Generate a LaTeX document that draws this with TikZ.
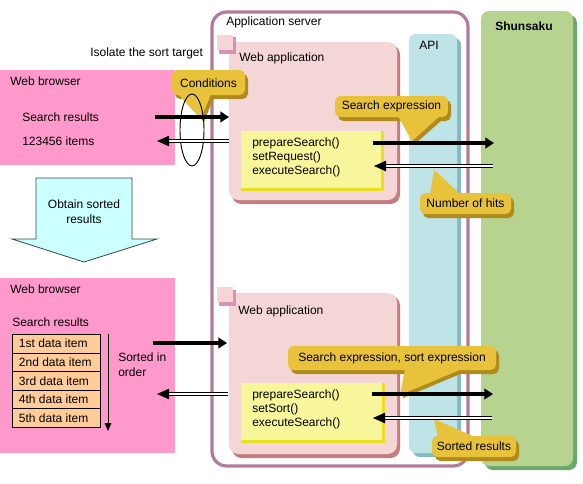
\documentclass[tikz,border=0pt]{standalone}
\usepackage{fontspec}
\setmainfont{Liberation Sans}
\usetikzlibrary{arrows.meta,decorations.markings}
\definecolor{appframe}{HTML}{B27B9A}
\definecolor{apifill}{HTML}{BEE4E7}
\definecolor{apishadow}{HTML}{86BAC2}
\definecolor{shfill}{HTML}{B6D490}
\definecolor{shshadow}{HTML}{6AA86C}
\definecolor{wafill}{HTML}{F5D6D6}
\definecolor{washadow}{HTML}{C27E80}
\definecolor{tabdark}{HTML}{D891B4}
\definecolor{yfill}{HTML}{F8F69A}
\definecolor{yborder}{HTML}{E8E020}
\definecolor{wbfill}{HTML}{FF99CC}
\definecolor{cellfill}{HTML}{FFCC99}
\definecolor{cyanfill}{HTML}{CCFFFF}
\definecolor{cyanline}{HTML}{2F4848}
\definecolor{gold}{HTML}{E8C23A}
\definecolor{gshadow}{HTML}{B08A1C}
\newcommand\gcall[5]{%
  \fill[gshadow,rounded corners=4pt,shift={(3,4)}] #1;
  \fill[gshadow,shift={(3,3)}] #2 -- cycle;
  \fill[gold,rounded corners=4pt] #1;
  \fill[gold] #2 -- cycle;
  \node[inner sep=0pt] (#3) at #4 {#5};}
\begin{document}
\begin{tikzpicture}[x=0.75pt,y=-0.75pt,font=\fontsize{9}{11}\selectfont,
  lbl/.style={anchor=west,inner sep=0pt},
  thickarrow/.style={line width=2.8pt,-{Triangle[length=6.5pt,width=8pt]}},
  dblarrow/.style={double,double distance=2pt,line width=0.7pt,shorten >=7pt,
    decoration={markings,mark=at position 1 with {\fill[black] (0,0) -- (-9pt,4pt) -- (-9pt,-4pt) -- cycle;}},
    postaction={decorate}},
  cell/.style={draw,fill=cellfill,line width=0.6pt,minimum width=66pt,minimum height=13.9pt,inner sep=0pt,anchor=north west}]
\useasboundingbox (0,0) rectangle (583,483);
% Shunsaku
\fill[shshadow,rounded corners=6pt] (485,15) rectangle (577,470);
\fill[shfill,rounded corners=6pt] (481,11) rectangle (573,466);
\node[lbl,font=\fontsize{9}{11}\selectfont\bfseries] (shun) at (495,26) {Shunsaku};
% Application server
\draw[appframe,line width=2.4pt,rounded corners=11pt] (212,12) rectangle (468,466);
\node[lbl] (appsrv) at (226,22) {Application server};
% API
\fill[apishadow,rounded corners=5pt] (413,38) rectangle (461,457);
\fill[apifill,rounded corners=5pt] (409,34) rectangle (457,453);
\node[lbl] (api) at (419,45) {API};
% Web application top
\fill[washadow,rounded corners=7pt] (232,45) rectangle (400,204);
\fill[wafill,rounded corners=7pt] (229,42) rectangle (397,200);
\fill[tabdark] (219,37) rectangle (236,54);
\fill[wafill] (217,35) rectangle (233,50);
\node[lbl] (wa1) at (239,58) {Web application};
\fill[yborder] (241,131) rectangle (384,191);
\fill[yfill] (241,131) rectangle (381,188);
\node[lbl,align=left,font=\fontsize{9}{10.5}\selectfont] (m1) at (252,157) {prepareSearch()\\setRequest()\\executeSearch()};
% Web application bottom
\fill[washadow,rounded corners=7pt] (232,296) rectangle (400,458);
\fill[wafill,rounded corners=7pt] (229,293) rectangle (397,454);
\fill[tabdark] (219,290) rectangle (236,306);
\fill[wafill] (217,287) rectangle (233,302);
\node[lbl] (wa2) at (238,311) {Web application};
\fill[yborder] (241,383) rectangle (385,443);
\fill[yfill] (241,383) rectangle (382,440);
\node[lbl,align=left,font=\fontsize{9}{10.5}\selectfont] (m2) at (252,409) {prepareSearch()\\setSort()\\executeSearch()};
% Web browser top
\fill[wbfill] (0,70) rectangle (175,165);
\node[lbl] (wb1) at (10,81) {Web browser};
\node[lbl] (sr1) at (22,117) {Search results};
\node[lbl] (cnt) at (22,141) {123456 items};
\node[lbl] (iso) at (90,53) {Isolate the sort target};
% block arrow
\filldraw[fill=cyanfill,draw=cyanline,line width=0.6pt] (36,178) -- (132,178) -- (132,239) -- (157,239) -- (84,262) -- (12,239) -- (36,239) -- cycle;
\node[align=center,inner sep=0pt] (obt) at (84,212) {Obtain sorted\\results};
% Web browser bottom
\fill[wbfill] (0,278) rectangle (175,453);
\node[lbl] (wb2) at (10,289) {Web browser};
\node[lbl] (sr2) at (12,322) {Search results};
\node[cell] (c1) at (12,334) {};
\node[cell] (c2) at (12,352.6) {};
\node[cell] (c3) at (12,371.2) {};
\node[cell] (c4) at (12,389.8) {};
\node[cell] (c5) at (12,408.4) {};
\node[lbl] at ([xshift=5pt]c1.west) {1st data item};
\node[lbl] at ([xshift=5pt]c2.west) {2nd data item};
\node[lbl] at ([xshift=5pt]c3.west) {3rd data item};
\node[lbl] at ([xshift=5pt]c4.west) {4th data item};
\node[lbl] at ([xshift=5pt]c5.west) {5th data item};
\coordinate (vs) at (108,334);
\coordinate (ve) at (108,431);
\draw[line width=0.7pt,-{Triangle[length=6pt,width=5pt]}] (vs) -- (ve);
\node[lbl,align=left] (sorted) at (118,365) {Sorted in\\order};
% callouts
\gcall{(172,70) rectangle (245,95)}{(178,94) -- (211,94) -- (201,119)}{cond}{(208.5,83)}{Conditions}
\draw[line width=0.7pt] (192,130) ellipse [x radius=9pt,y radius=27pt];
\gcall{(335,96) rectangle (448,117)}{(398,116) -- (440,116) -- (412,141)}{sexp}{(391.5,106)}{Search expression}
\gcall{(420,193) rectangle (511,214)}{(430,194) -- (460,194) -- (434,170)}{hits}{(465.5,203.5)}{Number of hits}
\gcall{(288,346) rectangle (496,370)}{(405,369) -- (462,369) -- (400,395)}{ssexp}{(392,358)}{Search expression, sort expression}
\gcall{(432,436) rectangle (516,457)}{(438,437) -- (475,437) -- (434,419)}{sres}{(474,446.5)}{Sorted results}
% arrow coordinates
\coordinate (a1s) at (155,117); \coordinate (a1e) at (229,117);
\coordinate (b1s) at (229,141); \coordinate (b1e) at (157,141);
\coordinate (a2s) at (373,143); \coordinate (a2e) at (494,143);
\coordinate (b2s) at (493,166); \coordinate (b2e) at (374,166);
\coordinate (a3s) at (153,343); \coordinate (a3e) at (227,343);
\coordinate (b3s) at (228,394); \coordinate (b3e) at (157,394);
\coordinate (a4s) at (372,394); \coordinate (a4e) at (493,394);
\coordinate (b4s) at (492,418); \coordinate (b4e) at (373,418);
\draw[thickarrow] (a1s) -- (a1e);
\draw[dblarrow] (b1s) -- (b1e);
\draw[thickarrow] (a2s) -- (a2e);
\draw[dblarrow] (b2s) -- (b2e);
\draw[thickarrow] (a3s) -- (a3e);
\draw[dblarrow] (b3s) -- (b3e);
\draw[thickarrow] (a4s) -- (a4e);
\draw[dblarrow] (b4s) -- (b4e);
\end{tikzpicture}
\end{document}
